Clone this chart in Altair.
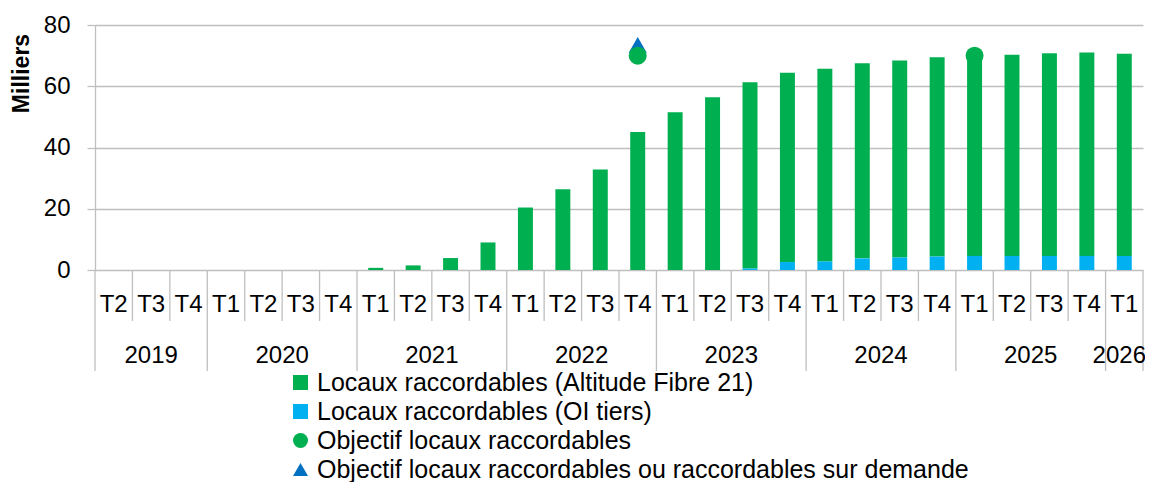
import altair as alt
import pandas as pd

# ---- data ----
quarters = ["T2", "T3", "T4",
            "T1", "T2", "T3", "T4",
            "T1", "T2", "T3", "T4",
            "T1", "T2", "T3", "T4",
            "T1", "T2", "T3", "T4",
            "T1", "T2", "T3", "T4",
            "T1", "T2", "T3", "T4",
            "T1"]
years = ["2019"] * 3 + ["2020"] * 4 + ["2021"] * 4 + ["2022"] * 4 + \
        ["2023"] * 4 + ["2024"] * 4 + ["2025"] * 4 + ["2026"]

altitude = [0, 0, 0,
            0, 0, 0, 0,
            0.7, 1.5, 3.9, 9.0,
            20.4, 26.4, 32.8, 45.1,
            51.5, 56.4, 60.8, 61.8,
            62.9, 63.7, 64.3, 65.1,
            65.4, 65.7, 66.2, 66.4,
            66.0]
oi_tiers = [0, 0, 0,
            0, 0, 0, 0,
            0, 0, 0, 0,
            0, 0, 0, 0,
            0, 0, 0.5, 2.6,
            2.8, 3.8, 4.1, 4.4,
            4.6, 4.6, 4.6, 4.6,
            4.6]

obj_triangle_keys = ["2022 T4"]
obj_triangle_vals = [73.5]
obj_circle_keys = ["2022 T4", "2025 T1"]
obj_circle_vals = [70, 70]

series = ["Locaux raccordables (Altitude Fibre 21)",
          "Locaux raccordables (OI tiers)",
          "Objectif locaux raccordables",
          "Objectif locaux raccordables ou raccordables sur demande"]
colors = ["#00B050", "#00B0F0", "#00B050", "#0070C0"]
shapes = ["square", "square", "circle", "triangle-up"]

FONT = "Liberation Sans"
GRID = "#BFBFBF"
W, H = 1048, 245
N = len(quarters)

# ---- tables ----
keys = [f"{y} {q}" for y, q in zip(years, quarters)]
key_idx = {k: i for i, k in enumerate(keys)}

bars = pd.DataFrame(
    [{"idx": i, "series": series[0], "value": v, "ord": 2} for i, v in enumerate(altitude)] +
    [{"idx": i, "series": series[1], "value": v, "ord": 1} for i, v in enumerate(oi_tiers)]
)

points = pd.DataFrame(
    [{"idx": key_idx[k], "value": v, "series": series[3]} for k, v in zip(obj_triangle_keys, obj_triangle_vals)] +
    [{"idx": key_idx[k], "value": v, "series": series[2]} for k, v in zip(obj_circle_keys, obj_circle_vals)]
)

qlab = pd.DataFrame({"idx": list(range(N)), "quarter": quarters})
ydf = pd.DataFrame({"idx": list(range(N)), "year": years})
ylab = ydf.groupby("year", as_index=False)["idx"].mean()
last_year = years[-1]

year_starts = ydf.groupby("year")["idx"].min().tolist()
year_bounds = [s - 0.5 for s in year_starts] + [N - 0.5]
q_bounds = [i - 0.5 for i in range(N + 1) if (i - 0.5) not in year_bounds]
qrules = pd.DataFrame({"b": q_bounds})
yrules = pd.DataFrame({"b": year_bounds})

xscale = alt.Scale(domain=[-0.5, N - 0.5], nice=False, zero=False)
yscale = alt.Scale(domain=[0, 80], nice=False)
color_scale = alt.Scale(domain=series, range=colors)
shape_scale = alt.Scale(domain=series, range=shapes)

bar_layer = alt.Chart(bars).transform_stack(
    stack="value", groupby=["idx"], as_=["v0", "v1"], sort=[alt.SortField("ord")]
).transform_calculate(
    xa="datum.idx - 0.2", xb="datum.idx + 0.2"
).mark_bar().encode(
    x=alt.X("xa:Q", scale=xscale, axis=None),
    x2="xb:Q",
    y=alt.Y("v0:Q", scale=yscale, axis=alt.Axis(
        values=[0, 20, 40, 60, 80], grid=True, gridColor=GRID, gridWidth=1.3,
        domain=True, domainColor=GRID, domainWidth=1.3,
        ticks=True, tickSize=8, tickColor=GRID, tickWidth=1.3,
        labelFont=FONT, labelFontSize=24, labelColor="black", labelPadding=17,
        title="Milliers", titleFont=FONT, titleFontSize=23, titleFontWeight="bold",
        titleColor="black", titleAngle=270, titleX=-74, titleY=48,
        titleAlign="center", titleBaseline="middle")),
    y2="v1:Q",
    color=alt.Color("series:N", scale=color_scale, title=None),
)

point_layer = alt.Chart(points).mark_point(filled=True, size=324, opacity=1).encode(
    x=alt.X("idx:Q", scale=xscale, axis=None),
    y=alt.Y("value:Q", scale=yscale),
    color=alt.Color("series:N", scale=color_scale, title=None),
    shape=alt.Shape("series:N", scale=shape_scale, title=None),
)

qrule_layer = alt.Chart(qrules).mark_rule(color=GRID, strokeWidth=1.3).encode(
    x=alt.X("b:Q", scale=xscale, axis=None),
    y=alt.value(H), y2=alt.value(H + 51),
)
yrule_layer = alt.Chart(yrules).mark_rule(color=GRID, strokeWidth=1.3).encode(
    x=alt.X("b:Q", scale=xscale, axis=None),
    y=alt.value(H), y2=alt.value(H + 101),
)

qtext = alt.Chart(qlab).mark_text(font=FONT, fontSize=24, color="black",
                                  align="center", baseline="middle").encode(
    x=alt.X("idx:Q", scale=xscale, axis=None),
    y=alt.value(H + 35),
    text="quarter:N",
)
ytext = alt.Chart(ylab).transform_filter(
    alt.datum.year != last_year
).mark_text(font=FONT, fontSize=24, color="black",
            align="center", baseline="middle").encode(
    x=alt.X("idx:Q", scale=xscale, axis=None),
    y=alt.value(H + 86),
    text="year:N",
)
ytext_last = alt.Chart(ylab).transform_filter(
    alt.datum.year == last_year
).mark_text(font=FONT, fontSize=24, color="black",
            align="center", baseline="middle", dx=-5).encode(
    x=alt.X("idx:Q", scale=xscale, axis=None),
    y=alt.value(H + 86),
    text="year:N",
)

chart = alt.layer(
    bar_layer, qrule_layer, yrule_layer, qtext, ytext, ytext_last, point_layer
).properties(
    width=W, height=H,
    autosize="none",
    padding={"left": 87, "top": 17, "right": 2, "bottom": 212},
).configure_view(stroke=None).configure_legend(
    orient="none", legendX=193, legendY=345, direction="vertical",
    symbolSize=225, symbolStrokeWidth=0, labelFont=FONT, labelFontSize=25,
    labelColor="black", labelLimit=1000, labelOffset=4, rowPadding=3,
    padding=0, title=None,
)

chart.save("out.html", embed_options={"renderer": "svg", "actions": False})
